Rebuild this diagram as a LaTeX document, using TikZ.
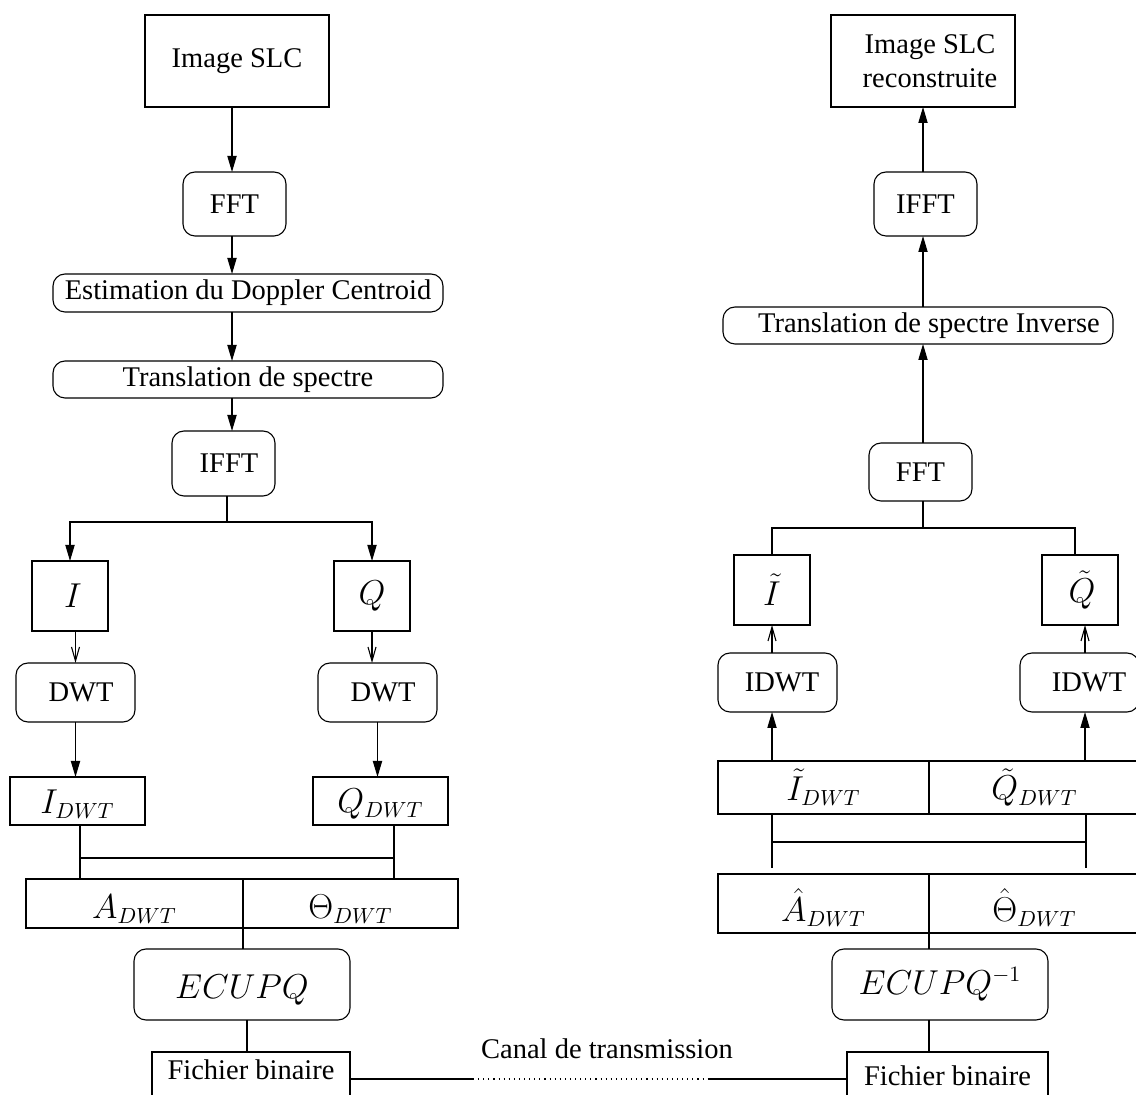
\documentclass[tikz,border=0pt]{standalone}
\usepackage{fontspec}
\setmainfont{Liberation Serif}
\usetikzlibrary{arrows.meta,calc}
\newcommand{\lowr}[2]{\raisebox{-#1}[\height][\depth]{#2}}
\begin{document}
\begin{tikzpicture}[x=0.5pt,y=-0.5pt, line width=0.55pt,
  font=\fontsize{14.25}{17}\selectfont,
  box/.style={draw, rectangle, inner sep=1pt, outer sep=0pt},
  rbox/.style={box, rounded corners=6pt},
  mth/.style={font=\fontsize{16}{19}\selectfont},
  arr/.style={-{Triangle[length=8pt,width=4.6pt]}},
  oarr/.style={-{Straight Barb[length=7pt,width=4pt]}}]
\useasboundingbox (0,0) rectangle (1136,1095);
\clip (0,0) rectangle (1136,1095);

% ---------- left chain ----------
\node[box, minimum width=92pt, minimum height=46pt] (slc) at (237,61) {Image SLC};
\node[rbox, minimum width=51.5pt, minimum height=32pt] (fft) at (234.5,204) {FFT};
\node[rbox, minimum width=195pt, minimum height=19pt] (est) at (248,293) {Estimation du Doppler Centroid};
\node[rbox, minimum width=195pt, minimum height=18.5pt] (tra) at (248,379.5) {Translation de spectre};
\node[rbox, minimum width=51.5pt, minimum height=32.5pt] (ifft) at (223.5,463.5) {\hspace{5.5pt}IFFT};
\node[box, mth, minimum width=38pt, minimum height=35pt] (I) at (70,596) {\hspace{3pt}$I$};
\node[box, mth, minimum width=38pt, minimum height=35pt] (Q) at (372,596) {$Q$};
\node[rbox, minimum width=59.5pt, minimum height=29.5pt] (dwtL) at (75.5,692.5) {\hspace{5.5pt}DWT};
\node[rbox, minimum width=59.5pt, minimum height=29.5pt] (dwtR) at (377.5,692.5) {\hspace{5.5pt}DWT};
\node[box, mth, minimum width=67.5pt, minimum height=24pt] (Id) at (77.5,801) {\lowr{1.5pt}{$I_{DWT}$}\hspace{7.5pt}};
\node[box, mth, minimum width=67.5pt, minimum height=24pt] (Qd) at (380.5,801) {\lowr{1.5pt}{$Q_{DWT}$}};
\node[box, mth, minimum width=108.5pt, minimum height=24.5pt] (aL) at (134.5,903.5) {\lowr{3pt}{$A_{DWT}$}\hspace{22.5pt}};
\node[box, mth, minimum width=107.5pt, minimum height=24.5pt] (aR) at (350.5,903.5) {\lowr{3pt}{$\Theta_{DWT}$}\hspace{5.5pt}};
\node[rbox, mth, minimum width=108pt, minimum height=35.5pt] (ec) at (242,984.5) {\lowr{3pt}{$ECUPQ$}\hspace{8pt}};
\node[box, minimum width=99pt, minimum height=29pt] (fL) at (251,1081) {};
\node (fLt) at (251,1070) {Fichier binaire};

% ---------- right chain ----------
\node[box, minimum width=92pt, minimum height=46pt, align=center] (slcR) at (923,61) {\hspace*{7pt}Image SLC\\\hspace*{7pt}reconstruite};
\node[rbox, minimum width=51.5pt, minimum height=32pt] (ifftR) at (925.5,204) {IFFT};
\node[rbox, minimum width=195pt, minimum height=18.5pt] (traR) at (918,325.5) {\hspace{11pt}Translation de spectre Inverse};
\node[rbox, minimum width=51.5pt, minimum height=29pt] (fftR) at (920.5,472) {FFT};
\node[box, mth, minimum width=38pt, minimum height=35pt] (It) at (772,590) {$\tilde I$};
\node[box, mth, minimum width=38pt, minimum height=35pt] (Qt) at (1080,590) {\hspace{2pt}$\tilde Q$};
\node[rbox, minimum width=59.5pt, minimum height=29.5pt] (idL) at (777.5,682.5) {\hspace{4.5pt}IDWT};
\node[rbox, minimum width=59.5pt, minimum height=29.5pt] (idR) at (1079.5,682.5) {\hspace{9.5pt}IDWT};
\node[box, mth, minimum width=105.5pt, minimum height=26.5pt] (itd) at (823.5,787.5) {$\tilde I_{DWT}$\hspace{29.5pt}};
\node[box, mth, minimum width=105.5pt, minimum height=26.5pt] (qtd) at (1034.5,787.5) {$\tilde Q_{DWT}$\hspace{14.5pt}};
\node[box, mth, minimum width=105.5pt, minimum height=29.5pt] (ah) at (823.5,903.5) {\lowr{2pt}{$\hat A_{DWT}$}\hspace{36.5pt}};
\node[box, mth, minimum width=105.5pt, minimum height=29.5pt] (th) at (1034.5,903.5) {\lowr{2pt}{$\hat\Theta_{DWT}$}\hspace{25.5pt}};
\node[rbox, mth, minimum width=108pt, minimum height=35.5pt] (ecR) at (940,984.5) {$ECUPQ^{-1}$\hspace{15pt}};
\node[box, minimum width=100.5pt, minimum height=29pt] (fR) at (947.5,1081) {};
\node (fRt) at (947.5,1076) {Fichier binaire};

\node (canal) at (607,1049) {Canal de transmission};

% ---------- left connectors ----------
\coordinate (cL) at (232,0);
\draw[arr] (slc.south -| cL) -- (fft.north -| cL);
\draw[arr] (fft.south -| cL) -- (est.north -| cL);
\draw[arr] (est.south -| cL) -- (tra.north -| cL);
\draw[arr] (tra.south -| cL) -- (ifft.north -| cL);
\coordinate (sp) at (227,522);
\draw (ifft.south -| sp) -- (sp);
\draw[arr] (sp) -| (I.north);
\draw[arr] (sp) -| (Q.north);
\draw[oarr] (I.south -| dwtL.north) -- (dwtL.north);
\draw[oarr] (Q.south) -- (Q.south |- dwtR.north);
\draw[arr] (dwtL.south) -- (dwtL.south |- Id.north);
\draw[arr] (dwtR.south) -- (dwtR.south |- Qd.north);
\coordinate (jl) at (80,858);
\coordinate (jr) at (394,858);
\draw (Id.south -| jl) -- (aL.north -| jl);
\draw (Qd.south -| jr) -- (aR.north -| jr);
\draw (jl) -- (jr);
\draw (aL.south east) -- (aL.south east |- ec.north);
\coordinate (eL) at (247,0);
\draw (ec.south -| eL) -- (fL.north -| eL);

% ---------- transmission ----------
\coordinate (t1) at (473,1079);
\coordinate (t2) at (708,1079);
\draw (fL.east |- t1) -- (t1);
\draw[dotted] (t1) -- (t2);
\draw (t2) -- (fR.west |- t2);

% ---------- right connectors ----------
\coordinate (cR) at (923,0);
\draw[arr] (fftR.north -| cR) -- (traR.south -| cR);
\draw[arr] (traR.north -| cR) -- (ifftR.south -| cR);
\draw[arr] (ifftR.north -| cR) -- (slcR.south -| cR);
\coordinate (spR) at (923,528);
\coordinate (qx) at (1075,0);
\draw (fftR.south -| spR) -- (spR);
\draw (It.north) |- (spR);
\draw (Qt.north -| qx) |- (spR);
\coordinate (rx) at (1085,0);
\draw[oarr] (idL.north -| It.south) -- (It.south);
\draw[oarr] (idR.north -| rx) -- (Qt.south -| rx);
\draw[arr] (itd.north -| It.south) -- (idL.south -| It.south);
\draw[arr] (qtd.north -| rx) -- (idR.south -| rx);
\coordinate (jl2) at (772,842);
\coordinate (jr2) at (1086,842);
\coordinate (bot) at (0,868);
\draw (itd.south -| jl2) -- (bot -| jl2);
\draw (qtd.south -| jr2) -- (bot -| jr2);
\draw (jl2) -- (jr2);
\draw (ah.south east) -- (ah.south east |- ecR.north);
\draw (ecR.south -| ah.south east) -- (fR.north -| ah.south east);
\end{tikzpicture}
\end{document}
